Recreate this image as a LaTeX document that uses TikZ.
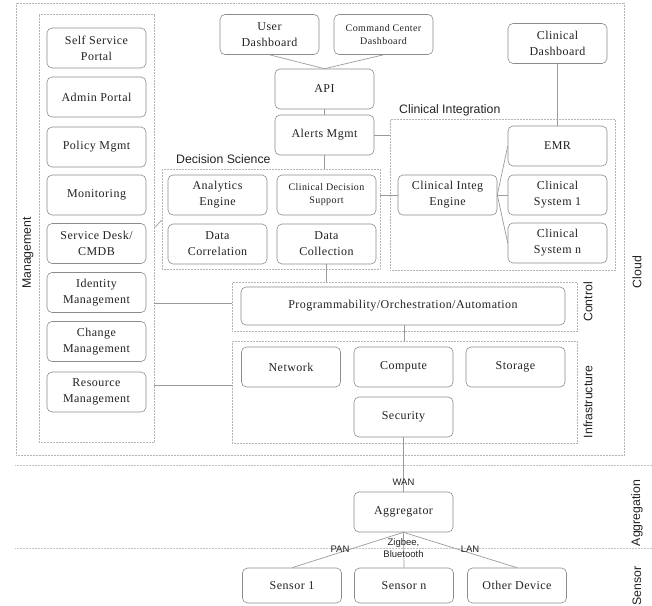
\documentclass[tikz,border=0pt]{standalone}
\usepackage{fontspec}
\setmainfont{Liberation Serif}[LetterSpace=4]
\setsansfont{Liberation Sans}
\definecolor{boxc}{HTML}{8C8C8C}
\definecolor{linec}{HTML}{9A9A9A}
\definecolor{contc}{HTML}{B4B4B4}
\definecolor{txt}{HTML}{222222}
\begin{document}
\begin{tikzpicture}[x=1pt,y=-1pt,
  box/.style={draw=boxc, line width=0.6pt, rounded corners=5pt, fill=white, minimum width=99pt, minimum height=40pt, align=center, inner sep=1pt, font=\fontsize{12}{16}\selectfont, text=txt},
  sbox/.style={box, font=\fontsize{10}{13}\selectfont},
  cont/.style={draw=contc, densely dotted, line width=0.5pt, inner sep=0pt},
  conn/.style={draw=linec, line width=0.7pt},
  sepline/.style={draw=contc!80, densely dotted, line width=0.5pt},
  lab/.style={font=\sffamily\fontsize{12.3}{14}\selectfont, text=txt, inner sep=0pt},
  small/.style={font=\sffamily\fontsize{9.5}{12}\selectfont, text=txt, inner sep=0pt, align=center}
]
\useasboundingbox (0,0) rectangle (652,605);

% containers
\node[cont, minimum width=608pt, minimum height=452pt] (cloud) at (320,229) {};
\node[cont, minimum width=115pt, minimum height=428pt] (mgmt) at (96.5,228) {};
\node[cont, minimum width=218pt, minimum height=100pt] (ds) at (271,219) {};
\node[cont, minimum width=225pt, minimum height=151pt] (ci) at (502.5,194.5) {};
\node[cont, minimum width=345pt, minimum height=49pt] (ctrl) at (404.5,306.5) {};
\node[cont, minimum width=345pt, minimum height=102pt] (infra) at (404.5,392) {};

% separators
\draw[sepline] (15,465) -- (652,465);
\draw[sepline] (15,548) -- (652,548);

% layer labels
\node[lab, rotate=90] (lmgmt) at (28,253) {Management};
\node[lab, rotate=90] (lcloud) at (637,272) {Cloud};
\node[lab, rotate=90] (lctrl) at (588,302) {Control};
\node[lab, rotate=90] (linfra) at (588,402) {Infrastructure};
\node[lab, rotate=90] (lagg) at (637,513) {Aggregation};
\node[lab, rotate=90] (lsens) at (637,586) {Sensor};
\node[lab, anchor=west] (lds) at (176,159) {Decision Science};
\node[lab, anchor=west] (lci) at (399,110) {Clinical Integration};

% management column
\node[box] (ssp) at (96.5,48) {Self Service\\Portal};
\node[box] (adm) at (96.5,97) {Admin Portal};
\node[box] (pol) at (96.5,147) {Policy Mgmt};
\node[box] (mon) at (96.5,195) {Monitoring};
\node[box] (sd) at (96.5,243.5) {Service Desk/\\CMDB};
\node[box] (idm) at (96.5,292.5) {Identity\\Management};
\node[box] (chg) at (96.5,341.5) {Change\\Management};
\node[box] (res) at (96.5,392) {Resource\\Management};

% top
\node[box] (ud) at (269.5,34.5) {User\\Dashboard};
\node[sbox] (cc) at (383.5,34.5) {Command Center\\Dashboard};
\node[box] (cdash) at (557.5,43.5) {Clinical\\Dashboard};
\node[box] (api) at (324.5,89) {API};
\node[box] (alerts) at (324.5,135) {Alerts Mgmt};

% decision science
\node[box] (ae) at (217.5,195) {Analytics\\Engine};
\node[sbox] (cds) at (326.5,195) {Clinical Decision\\Support};
\node[box] (dcor) at (217.5,244) {Data\\Correlation};
\node[box] (dcoll) at (326.5,244) {Data\\Collection};

% clinical integration
\node[box] (cie) at (447.5,195) {Clinical Integ\\Engine};
\node[box] (emr) at (557.5,146) {EMR};
\node[box] (cs1) at (557.5,195) {Clinical\\System 1};
\node[box] (csn) at (557.5,243) {Clinical\\System n};

% control / infrastructure
\node[box, minimum width=324pt, minimum height=38pt] (prog) at (403,306) {Programmability/Orchestration/Automation};
\node[box] (net) at (291,367) {Network};
\node[box] (comp) at (403.5,367) {Compute};
\node[box] (stor) at (515.5,367) {Storage};
\node[box] (sec) at (403.5,417) {Security};

% aggregation / sensors
\node[box] (agg) at (403.5,512) {Aggregator};
\node[box, minimum height=35pt] (s1) at (292,585.5) {Sensor 1};
\node[box, minimum height=35pt] (sn) at (404,585.5) {Sensor n};
\node[box, minimum height=35pt] (od) at (517,585.5) {Other Device};

% connectors
\draw[conn] (ud.south) -- (api.north);
\draw[conn] (cc.south) -- (api.north);
\draw[conn] (api.south) -- (alerts.north);
\draw[conn] (alerts.south) -- (alerts.south |- ds.north);
\draw[conn] (alerts.east) -- (alerts.east -| ci.west);
\draw[conn] (cdash.south) -- (emr.north);
\draw[conn] (cie.west -| ds.east) -- (cie.west);
\draw[conn] (cie.east) -- (emr.west);
\draw[conn] (cie.east) -- (cs1.west);
\draw[conn] (cie.east) -- (csn.west);
\draw[conn] (mgmt.east |- 0,228) -- (ds.west |- 0,220);
\draw[conn] (mgmt.east |- 0,303) -- (ctrl.west |- 0,303);
\draw[conn] (mgmt.east |- 0,385) -- (infra.west |- 0,385);
\draw[conn] (dcoll.south) -- (dcoll.south |- ctrl.north);
\draw[conn] (prog.south -| infra.north) -- (infra.north);
\draw[conn] (sec.south) -- (agg.north);
\draw[conn] (agg.south) -- (s1.north);
\draw[conn] (agg.south) -- (sn.north);
\draw[conn] (agg.south) -- (od.north);

% link labels
\node[small] (wan) at (403.5,482) {WAN};
\node[small] (pan) at (340,549) {PAN};
\node[small] (zig) at (403.5,548.5) {Zigbee,\\Bluetooth};
\node[small] (lan) at (470,549) {LAN};
\end{tikzpicture}
\end{document}
